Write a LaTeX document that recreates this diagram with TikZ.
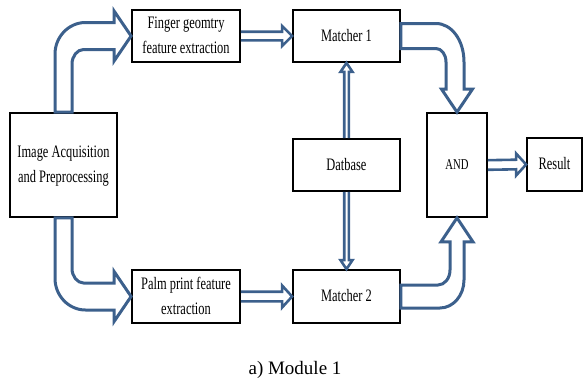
\documentclass[tikz,border=0pt]{standalone}
\usepackage{fontspec}
\setmainfont{Liberation Serif}
\usepackage{graphicx}
\usetikzlibrary{calc}
\definecolor{arrblue}{RGB}{60,96,140}
\newcommand{\boxtxt}[1]{\scalebox{0.71}[1]{\fontsize{17.5}{25}\selectfont\begin{tabular}{@{}c@{}}#1\end{tabular}}}
\begin{document}
\begin{tikzpicture}[x=1pt,y=-1pt,
  blk/.style={draw=black, line width=1.8pt, fill=white, inner sep=0pt},
  bigarrow/.style={draw=arrblue, line width=3pt, fill=white, line join=miter},
  thinarrow/.style={draw=arrblue, line width=2.6pt, line join=miter}]
\useasboundingbox (0,0) rectangle (584,383);
% boxes
\node[blk, minimum width=107pt, minimum height=104pt] (img) at (63.5,165) {\boxtxt{Image Acquisition\\and Preprocessing}};
\node[blk, minimum width=108pt, minimum height=52pt] (fin) at (186,36) {\boxtxt{Finger geomtry\\feature extraction}};
\node[blk, minimum width=108pt, minimum height=53pt] (palm) at (186,296.5) {\boxtxt{Palm print feature\\extraction}};
\node[blk, minimum width=107pt, minimum height=52pt] (m1) at (346.5,36) {\boxtxt{Matcher 1}};
\node[blk, minimum width=107pt, minimum height=52pt] (db) at (346.5,165) {\boxtxt{Datbase}};
\node[blk, minimum width=107pt, minimum height=53pt] (m2) at (346.5,296.5) {\boxtxt{Matcher 2}};
\node[blk, minimum width=60pt, minimum height=104pt] (and) at (457,165) {\scalebox{0.71}[1]{\fontsize{15}{18}\selectfont AND}};
\node[blk, minimum width=55pt, minimum height=53pt] (res) at (554.5,164.5) {\boxtxt{Result}};
\node[inner sep=0pt] (cap) at (295,370) {\fontsize{19}{22}\selectfont a) Module 1};
% big curved arrow: image -> finger
\coordinate (K1) at (img.north |- fin.west);
\draw[bigarrow] ($(img.north)+(-8.5,0)$) -- ($(K1)+(-8.5,18)$)
  .. controls ($(K1)+(-8.5,1)$) and ($(K1)+(5,-13.5)$) .. ($(K1)+(22,-13.5)$)
  -- ($(fin.west)+(-17,-13.5)$) -- ($(fin.west)+(-17,-25)$) -- (fin.west)
  -- ($(fin.west)+(-17,25)$) -- ($(fin.west)+(-17,13.5)$) -- ($(K1)+(20,13.5)$)
  .. controls ($(K1)+(13.7,13.5)$) and ($(K1)+(8.5,20.3)$) .. ($(K1)+(8.5,28)$)
  -- ($(img.north)+(8.5,0)$) -- cycle;
% big curved arrow: image -> palm
\coordinate (K2) at (img.south |- palm.west);
\draw[bigarrow] ($(img.south)+(-8.5,0)$) -- ($(K2)+(-8.5,-18)$)
  .. controls ($(K2)+(-8.5,-1)$) and ($(K2)+(5,13.5)$) .. ($(K2)+(22,13.5)$)
  -- ($(palm.west)+(-17,13.5)$) -- ($(palm.west)+(-17,25)$) -- (palm.west)
  -- ($(palm.west)+(-17,-25)$) -- ($(palm.west)+(-17,-13.5)$) -- ($(K2)+(20,-13.5)$)
  .. controls ($(K2)+(13.7,-13.5)$) and ($(K2)+(8.5,-20.3)$) .. ($(K2)+(8.5,-28)$)
  -- ($(img.south)+(8.5,0)$) -- cycle;
% big curved arrow: matcher 1 -> AND
\coordinate (K3) at (and.north |- m1.east);
\draw[bigarrow] ($(m1.east)+(0,-12.5)$) -- ($(K3)+(-21,-12.5)$)
  .. controls ($(K3)+(-5.6,-12.5)$) and ($(K3)+(7,4)$) .. ($(K3)+(7,26)$)
  -- ($(and.north)+(7,-23)$) -- ($(and.north)+(15.5,-23)$) -- (and.north)
  -- ($(and.north)+(-15.5,-23)$) -- ($(and.north)+(-11,-23)$) -- ($(K3)+(-11,26)$)
  .. controls ($(K3)+(-11,18.6)$) and ($(K3)+(-15.5,12.5)$) .. ($(K3)+(-21,12.5)$)
  -- ($(m1.east)+(0,12.5)$) -- cycle;
% big curved arrow: matcher 2 -> AND
\coordinate (K4) at (and.south |- m2.east);
\draw[bigarrow] ($(m2.east)+(0,11.5)$) -- ($(K4)+(-17,11.5)$)
  .. controls ($(K4)+(-3.8,11.5)$) and ($(K4)+(7,-1.1)$) .. ($(K4)+(7,-16.5)$)
  -- ($(and.south)+(7,24)$) -- ($(and.south)+(16,24)$) -- (and.south)
  -- ($(and.south)+(-16,24)$) -- ($(and.south)+(-7,24)$) -- ($(K4)+(-7,-26.5)$)
  .. controls ($(K4)+(-7,-18.2)$) and ($(K4)+(-12.4,-11.5)$) .. ($(K4)+(-19,-11.5)$)
  -- ($(m2.east)+(0,-11.5)$) -- cycle;
% thin hollow arrows (horizontal)
\draw[thinarrow] ($(fin.east)+(0,-4.3)$) -- ($(m1.west)+(-10,-4.3)$) -- ($(m1.west)+(-10,-10)$)
  -- (m1.west) -- ($(m1.west)+(-10,10)$) -- ($(m1.west)+(-10,4.3)$) -- ($(fin.east)+(0,4.3)$);
\draw[thinarrow] ($(palm.east)+(0,-4.8)$) -- ($(m2.west)+(-10,-4.8)$) -- ($(m2.west)+(-10,-11)$)
  -- (m2.west) -- ($(m2.west)+(-10,11)$) -- ($(m2.west)+(-10,4.8)$) -- ($(palm.east)+(0,4.8)$);
\draw[thinarrow] ($(and.east)+(0,-4.8)$) -- ($(res.west)+(-10,-4.8)$) -- ($(res.west)+(-10,-11)$)
  -- (res.west) -- ($(res.west)+(-10,11)$) -- ($(res.west)+(-10,4.8)$) -- ($(and.east)+(0,4.8)$);
% thin hollow arrows (vertical)
\draw[thinarrow] ($(db.north)+(-2.3,0)$) -- ($(m1.south)+(-2.3,9)$) -- ($(m1.south)+(-6,9)$)
  -- (m1.south) -- ($(m1.south)+(6,9)$) -- ($(m1.south)+(2.3,9)$) -- ($(db.north)+(2.3,0)$);
\draw[thinarrow] ($(db.south)+(-2.3,0)$) -- ($(m2.north)+(-2.3,-9)$) -- ($(m2.north)+(-6,-9)$)
  -- (m2.north) -- ($(m2.north)+(6,-9)$) -- ($(m2.north)+(2.3,-9)$) -- ($(db.south)+(2.3,0)$);
\end{tikzpicture}
\end{document}
